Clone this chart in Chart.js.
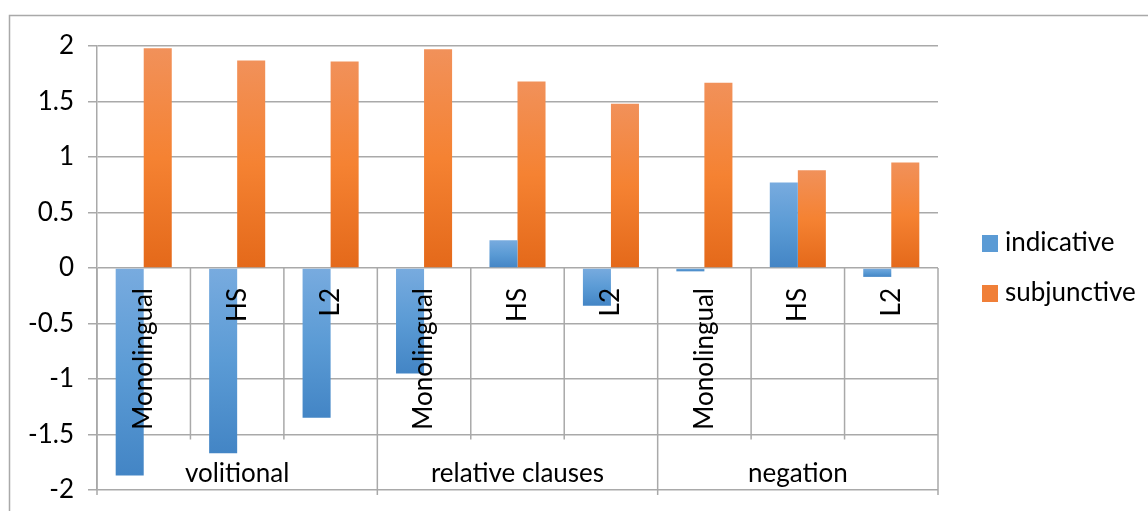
<!DOCTYPE html>
<html>
<head>
<meta charset="utf-8">
<script src="https://cdn.jsdelivr.net/npm/chart.js@4/dist/chart.umd.min.js"></script>
<style>
  html, body { margin: 0; padding: 0; background: #fff; }
  #wrap { width: 1148px; height: 511px; position: relative; }
</style>
</head>
<body>
<div id="wrap"><canvas id="chart"></canvas></div>
<script>
const groups = ['volitional', 'relative clauses', 'negation'];
const speakers = ['Monolingual', 'HS', 'L2'];
const categories = groups.flatMap(g => speakers.map(s => s + ' ' + g));
const indicative = [-1.87, -1.67, -1.35, -0.95, 0.25, -0.34, -0.03, 0.77, -0.08];
const subjunctive = [1.98, 1.87, 1.86, 1.97, 1.68, 1.48, 1.67, 0.88, 0.95];
const yTicks = [2, 1.5, 1, 0.5, 0, -0.5, -1, -1.5, -2];

const FONT = 'Lato, "Open Sans", sans-serif';
const GRID = '#a9a9a9';

function barGradient(light, mid, dark, flat) {
    return (c) => {
        if (c.type !== 'data') return flat;
        const chart = c.chart;
        const y = chart.scales.y;
        if (!y || !chart.chartArea) return flat;
        const v = c.raw;
        const p0 = y.getPixelForValue(0);
        const p1 = y.getPixelForValue(v);
        const top = Math.min(p0, p1), bottom = Math.max(p0, p1);
        if (bottom - top < 1) return flat;
        const g = chart.ctx.createLinearGradient(0, top, 0, bottom);
        g.addColorStop(0, light);
        g.addColorStop(0.5, mid);
        g.addColorStop(1, dark);
        return g;
    };
}

// frame, x-axis label table, legend
const decor = {
    id: 'decor',
    beforeDatasetsDraw(chart) {
        const { ctx, chartArea: a, scales: { x, y } } = chart;
        const zero = y.getPixelForValue(0);
        const sep = y.getPixelForValue(-1.5);
        const step = x.getPixelForValue(1) - x.getPixelForValue(0);
        ctx.save();
        ctx.strokeStyle = GRID;
        ctx.lineWidth = 1.5;
        for (let i = 0; i <= categories.length; i++) {
            const px = x.getPixelForValue(i) - step / 2;
            const groupEdge = i % speakers.length === 0;
            ctx.beginPath();
            ctx.moveTo(px, zero);
            ctx.lineTo(px, groupEdge ? a.bottom + 5 : sep + 5);
            ctx.stroke();
        }
        ctx.restore();
    },
    afterDatasetsDraw(chart) {
        const { ctx, chartArea: a, scales: { x, y } } = chart;
        const zero = y.getPixelForValue(0);
        ctx.save();
        ctx.fillStyle = '#000';
        ctx.font = '26px ' + FONT;
        // rotated speaker labels
        categories.forEach((c, i) => {
            const px = x.getPixelForValue(i);
            ctx.save();
            ctx.translate(px, zero + 20);
            ctx.rotate(-Math.PI / 2);
            ctx.textAlign = 'right';
            ctx.textBaseline = 'middle';
            ctx.fillText(speakers[i % speakers.length], 0, 0);
            ctx.restore();
        });
        // group labels
        ctx.textAlign = 'center';
        ctx.textBaseline = 'middle';
        groups.forEach((g, gi) => {
            const mid = (x.getPixelForValue(gi * 3) + x.getPixelForValue(gi * 3 + 2)) / 2;
            ctx.fillText(g, mid, 474);
        });
        // legend
        const items = [['indicative', '#5b9bd5'], ['subjunctive', '#f07f38']];
        ctx.textAlign = 'left';
        items.forEach(([label, col], k) => {
            const cy = 243 + k * 50;
            ctx.fillStyle = col;
            ctx.fillRect(982, cy - 8, 16, 17);
            ctx.fillStyle = '#000';
            ctx.fillText(label, 1005, cy);
        });
        // outer frame
        ctx.strokeStyle = '#a9a9a9';
        ctx.lineWidth = 1.5;
        ctx.strokeRect(9.5, 15.5, 1200, 600);
        ctx.restore();
    }
};

new Chart(document.getElementById('chart'), {
    type: 'bar',
    data: {
        labels: categories,
        datasets: [
            {
                label: 'indicative',
                data: indicative,
                backgroundColor: barGradient('#78abdf', '#5b9bd5', '#4385c5', '#5b9bd5'),
                borderWidth: 0,
            },
            {
                label: 'subjunctive',
                data: subjunctive,
                backgroundColor: barGradient('#f1915a', '#f58232', '#e4691a', '#f07f38'),
                borderWidth: 0,
            },
        ],
    },
    plugins: [decor],
    options: {
        responsive: true,
        maintainAspectRatio: false,
        animation: false,
        devicePixelRatio: 1,
        layout: { padding: { left: 0, top: 46, right: 210, bottom: 21 } },
        datasets: { bar: { categoryPercentage: 0.6, barPercentage: 1.0 } },
        plugins: { legend: { display: false }, tooltip: { enabled: false } },
        scales: {
            x: { display: false },
            y: {
                min: -2,
                max: 2,
                afterFit: (s) => { s.width = 97; s.paddingTop = 0; s.paddingBottom = 0; },
                afterBuildTicks: (s) => { s.ticks = yTicks.map(v => ({ value: v })); },
                ticks: {
                    color: '#000',
                    font: { family: FONT, size: 26 },
                    padding: 14,
                    callback: (v) => String(v),
                },
                grid: { color: GRID, lineWidth: 1.5, tickLength: 9 },
                border: { color: GRID, width: 1.5 },
            },
        },
    },
});
</script>
</body>
</html>
